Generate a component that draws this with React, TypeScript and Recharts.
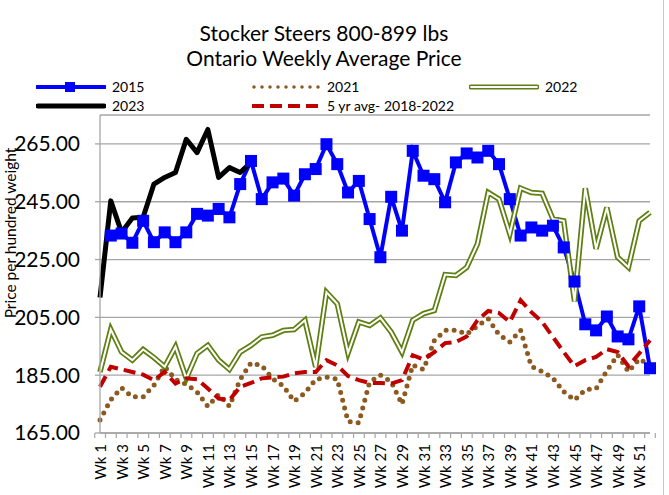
import { LineChart, Line, XAxis, YAxis, CartesianGrid } from 'recharts'

const weeks = [
  'Wk 1', 'Wk 2', 'Wk 3', 'Wk 4', 'Wk 5', 'Wk 6', 'Wk 7', 'Wk 8', 'Wk 9', 'Wk 10',
  'Wk 11', 'Wk 12', 'Wk 13', 'Wk 14', 'Wk 15', 'Wk 16', 'Wk 17', 'Wk 18', 'Wk 19', 'Wk 20',
  'Wk 21', 'Wk 22', 'Wk 23', 'Wk 24', 'Wk 25', 'Wk 26', 'Wk 27', 'Wk 28', 'Wk 29', 'Wk 30',
  'Wk 31', 'Wk 32', 'Wk 33', 'Wk 34', 'Wk 35', 'Wk 36', 'Wk 37', 'Wk 38', 'Wk 39', 'Wk 40',
  'Wk 41', 'Wk 42', 'Wk 43', 'Wk 44', 'Wk 45', 'Wk 46', 'Wk 47', 'Wk 48', 'Wk 49', 'Wk 50',
  'Wk 51', 'Wk 52',
]

const yTicks = [165, 185, 205, 225, 245, 265]

const y2015 = [
  null, 233.3, 234, 230.8, 238.4, 231, 234.4, 231, 234.4, 240.8,
  240.2, 242.5, 239.6, 251.1, 259.1, 245.9, 251.7, 253, 247.1, 254.5,
  256.3, 264.9, 258, 248.2, 252.2, 239, 225.8, 246.7, 235, 262.6,
  254, 252.8, 244.8, 258.6, 261.7, 260.3, 262.6, 258, 245.9, 233.3,
  236.1, 235, 236.7, 229.2, 217.4, 202.6, 200.5, 205.3, 198.4, 197.4,
  208.8, 187.4,
]

const y2021 = [
  169.5, 176.5, 180.6, 177.5, 177.5, 181.5, 188, 183.5, 181.8, 179.2,
  174.2, 178.3, 174.3, 183.5, 189.3, 188.3, 183.8, 181.3, 176, 178.8,
  183.5, 184.3, 183.6, 169, 168.5, 182.6, 185, 182.8, 175, 188.5,
  187, 197, 200.5, 200.6, 199.2, 202, 204.5, 199, 196.5, 200.5,
  188, 186.3, 184, 179.3, 176.4, 180, 180.3, 186.5, 192, 186.2,
  190.6, 188.5,
]

const y2022 = [
  186.1, 200.8, 193, 190.2, 193.9, 191.1, 187.9, 194.8, 183.9, 192.5,
  195.3, 190.2, 187, 193, 195.3, 198.2, 198.8, 200.5, 200.8, 204,
  187.9, 213.7, 209.7, 192.7, 203.4, 202.2, 204.8, 199.9, 193, 204,
  206.3, 207.4, 219.8, 219.5, 222.3, 230.4, 248.2, 245.9, 233.9, 249.7,
  248.2, 247.9, 239, 238.4, 210.5, 249.7, 228.7, 243, 225.8, 222.3,
  238.4, 241.3,
]

const y2023 = [
  211.9, 245.3, 234.4, 239.4, 239.6, 251.1, 253.4, 255.1, 266.6, 262,
  270, 253.4, 256.8, 255.1, 258.6,
]

const avg5 = [
  181, 187.9, 187, 186.1, 185.2, 183.3, 186.1, 182.1, 183.9, 183.6,
  180.4, 176.9, 176.4, 181, 182.3, 183.9, 184.2, 184.5, 185.6, 186.1,
  186.1, 190.2, 188.4, 184.7, 183.3, 182.3, 182.3, 182.1, 183.3, 191.9,
  190.4, 193, 196.1, 196.5, 198.4, 204, 207.2, 206.5, 203.4, 210.9,
  206.8, 203.4, 198.2, 193, 188.1, 190.2, 191.3, 194, 193, 188.1,
  192.5, 197.1,
]

const data = weeks.map((week, i) => ({
  week,
  y2015: y2015[i],
  y2021: y2021[i],
  y2022: y2022[i],
  y2023: y2023[i] ?? null,
  avg5: avg5[i],
}))

const BLUE = '#0000ff'
const BROWN = '#8c5a20'
const OLIVE = '#5f7f12'
const RED = '#c00000'
const GRID = '#a6a6a6'
const FONT = 'Lato, "Open Sans", sans-serif'

const PLOT_LEFT = 100
const PLOT_RIGHT = 650
const PLOT_BOTTOM = 433
const BAND = (PLOT_RIGHT - PLOT_LEFT) / weeks.length

function WeekTick({ x, payload, index }: any) {
  const left = x - BAND / 2
  return (
    <g>
      <line x1={left} y1={PLOT_BOTTOM} x2={left} y2={PLOT_BOTTOM + 5} stroke={GRID} strokeWidth={1.2} />
      {index === weeks.length - 1 && (
        <line x1={x + BAND / 2} y1={PLOT_BOTTOM} x2={x + BAND / 2} y2={PLOT_BOTTOM + 5} stroke={GRID} strokeWidth={1.2} />
      )}
      {index % 2 === 0 && (
        <text
          x={x}
          y={444}
          transform={`rotate(-90, ${x}, 444)`}
          textAnchor="end"
          dominantBaseline="central"
          fontSize={15}
          fontFamily={FONT}
          fill="#000"
        >
          {payload.value}
        </text>
      )}
    </g>
  )
}

function SquareDot({ cx, cy, index }: any) {
  if (cx == null || cy == null) return <g key={`sq-${index}`} />
  return <rect key={`sq-${index}`} x={cx - 6} y={cy - 6} width={12} height={12} fill={BLUE} />
}

function LegendSample({ kind }: { kind: string }) {
  return (
    <svg width={70} height={12} style={{ display: 'block' }}>
      {kind === '2015' && (
        <>
          <line x1={1} y1={6} x2={69} y2={6} stroke={BLUE} strokeWidth={4} strokeLinecap="round" />
          <rect x={29} y={1} width={10} height={10} fill={BLUE} />
        </>
      )}
      {kind === '2021' && (
        <line x1={3} y1={6} x2={68} y2={6} stroke={BROWN} strokeWidth={3.5} strokeDasharray="0 8" strokeLinecap="round" />
      )}
      {kind === '2022' && (
        <>
          <line x1={2} y1={6} x2={68} y2={6} stroke={OLIVE} strokeWidth={5} strokeLinecap="round" />
          <line x1={2} y1={6} x2={68} y2={6} stroke="#fff" strokeWidth={1.8} strokeLinecap="round" />
        </>
      )}
      {kind === '2023' && (
        <line x1={2} y1={6} x2={68} y2={6} stroke="#000" strokeWidth={5} strokeLinecap="round" />
      )}
      {kind === 'avg' && (
        <line x1={1} y1={6} x2={70} y2={6} stroke={RED} strokeWidth={4} strokeDasharray="12 6" />
      )}
    </svg>
  )
}

const legendItems = [
  { kind: '2015', label: '2015', left: 36, top: 81 },
  { kind: '2021', label: '2021', left: 251, top: 81 },
  { kind: '2022', label: '2022', left: 469, top: 81 },
  { kind: '2023', label: '2023', left: 36, top: 100 },
  { kind: 'avg', label: '5 yr avg- 2018-2022', left: 251, top: 100 },
]

export default function App() {
  return (
    <div style={{ position: 'absolute', left: 0, top: 0, width: 669, height: 495, background: '#fff', fontFamily: FONT }}>
      <div
        style={{
          position: 'absolute', left: 0, top: 20, width: 648, textAlign: 'center',
          fontSize: 21, lineHeight: '25px', color: '#000',
        }}
      >
        <div>Stocker Steers 800-899 lbs</div>
        <div>Ontario Weekly Average Price</div>
      </div>

      {legendItems.map(item => (
        <div key={item.kind} style={{ position: 'absolute', left: item.left, top: item.top, display: 'flex', alignItems: 'center', gap: 6 }}>
          <LegendSample kind={item.kind} />
          <span style={{ fontSize: 14, lineHeight: '12px', color: '#000', whiteSpace: 'nowrap' }}>{item.label}</span>
        </div>
      ))}

      <svg width={30} height={495} style={{ position: 'absolute', left: 0, top: 0 }}>
        <text
          x={16}
          y={233}
          transform="rotate(-90, 16, 233)"
          textAnchor="middle"
          fontSize={15.5}
          fontFamily={FONT}
          fill="#000"
        >
          Price per hundred weight
        </text>
      </svg>

      <div style={{ position: 'absolute', left: 663, top: 0, width: 1, height: 495, background: '#c8c8c8' }} />

      <div style={{ position: 'absolute', left: 0, top: 0 }}>
        <LineChart width={669} height={495} data={data} margin={{ top: 115, right: 19, bottom: 0, left: 0 }}>
          <CartesianGrid horizontal vertical={false} stroke={GRID} strokeWidth={1.3} />
          <XAxis
            dataKey="week"
            interval={0}
            height={62}
            axisLine={{ stroke: GRID, strokeWidth: 1.3 }}
            tickLine={false}
            tick={<WeekTick />}
          />
          <YAxis
            type="number"
            domain={[165, 275]}
            ticks={yTicks}
            width={100}
            tickSize={5}
            tickMargin={15}
            axisLine={{ stroke: GRID, strokeWidth: 1.3 }}
            tickLine={{ stroke: GRID, strokeWidth: 1.3 }}
            tick={{ fill: '#000', fontSize: 21, fontFamily: FONT }}
            tickFormatter={(v: number) => v.toFixed(2)}
            allowDataOverflow
          />
          <Line
            type="linear"
            dataKey="y2015"
            stroke={BLUE}
            strokeWidth={4}
            dot={<SquareDot />}
            activeDot={false}
            isAnimationActive={false}
          />
          <Line
            type="linear"
            dataKey="y2021"
            stroke={BROWN}
            strokeWidth={5}
            strokeDasharray="0 8"
            strokeLinecap="round"
            dot={false}
            activeDot={false}
            isAnimationActive={false}
          />
          <Line
            type="linear"
            dataKey="y2022"
            stroke={OLIVE}
            strokeWidth={5.5}
            dot={false}
            activeDot={false}
            isAnimationActive={false}
          />
          <Line
            type="linear"
            dataKey="y2022"
            stroke="#fff"
            strokeWidth={2}
            dot={false}
            activeDot={false}
            legendType="none"
            isAnimationActive={false}
          />
          <Line
            type="linear"
            dataKey="y2023"
            stroke="#000"
            strokeWidth={5}
            strokeLinejoin="round"
            dot={false}
            activeDot={false}
            isAnimationActive={false}
          />
          <Line
            type="linear"
            dataKey="avg5"
            stroke={RED}
            strokeWidth={4}
            strokeDasharray="12 6"
            dot={false}
            activeDot={false}
            isAnimationActive={false}
          />
        </LineChart>
      </div>
    </div>
  )
}
